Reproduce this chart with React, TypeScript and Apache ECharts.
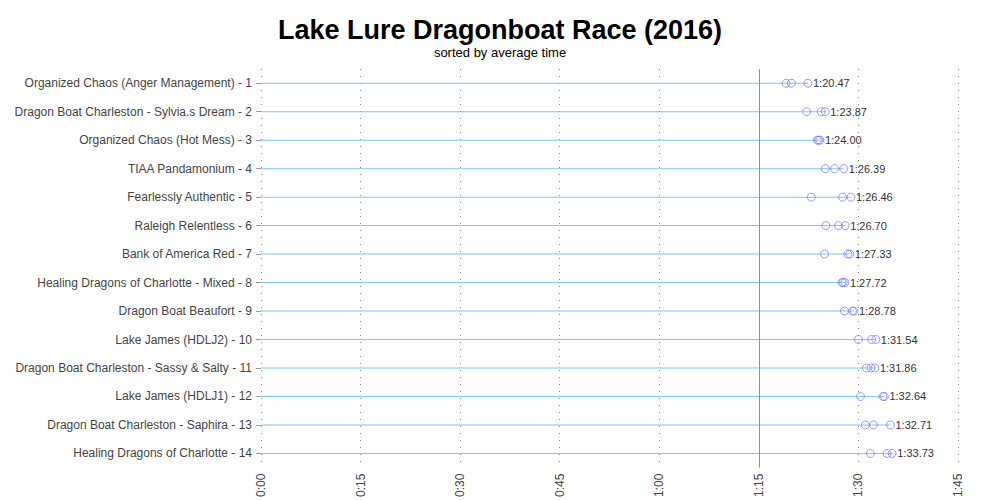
import React, { useEffect, useRef } from "react";
import * as echarts from "echarts";

const teams = [
  "Organized Chaos (Anger Management) - 1",
  "Dragon Boat Charleston - Sylvia.s Dream - 2",
  "Organized Chaos (Hot Mess) - 3",
  "TIAA Pandamonium - 4",
  "Fearlessly Authentic - 5",
  "Raleigh Relentless - 6",
  "Bank of America Red - 7",
  "Healing Dragons of Charlotte - Mixed - 8",
  "Dragon Boat Beaufort - 9",
  "Lake James (HDLJ2) - 10",
  "Dragon Boat Charleston - Sassy & Salty - 11",
  "Lake James (HDLJ1) - 12",
  "Dragon Boat Charleston - Saphira - 13",
  "Healing Dragons of Charlotte - 14",
];

// race times in seconds
const race1 = [79.1, 82.2, 83.8, 85.0, 82.9, 85.1, 84.9, 87.5, 87.9, 90.0, 91.2, 90.3, 91.05, 91.8];
const race2 = [79.9, 84.4, 84.0, 86.4, 87.6, 87.0, 88.4, 87.7, 89.1, 92.0, 91.9, 93.7, 92.25, 94.3];
const race3 = [82.4, 85.0, 84.2, 87.77, 88.88, 88.0, 88.7, 87.96, 89.34, 92.62, 92.48, 93.92, 94.83, 95.09];
const averages = [80.47, 83.87, 84.0, 86.39, 86.46, 86.7, 87.33, 87.72, 88.78, 91.54, 91.86, 92.64, 92.71, 93.73];

const xTicks = [0, 15, 30, 45, 60, 75, 90, 105];
const referenceTime = 75;

const fmtTick = (v: number) => {
  const m = Math.floor(v / 60);
  const s = Math.round(v - m * 60);
  return `${m}:${s < 10 ? "0" : ""}${s}`;
};
const fmtAvg = (v: number) => {
  const m = Math.floor(v / 60);
  const s = v - m * 60;
  const str = s.toFixed(2);
  return `${m}:${s < 10 ? "0" : ""}${str}`;
};

const FONT = "'Liberation Sans', Arial, sans-serif";

export default function App() {
  const ref = useRef<HTMLDivElement>(null);
  useEffect(() => {
    if (!ref.current) return;
    const chart = echarts.init(ref.current, undefined, { renderer: "svg" });
    const maxes = teams.map((_, i) => Math.max(race1[i], race2[i], race3[i]));
    const pts: number[][] = [];
    teams.forEach((_, i) => {
      pts.push([race1[i], i]);
      pts.push([race2[i], i]);
      pts.push([race3[i], i]);
    });
    chart.setOption({
      animation: false,
      textStyle: { fontFamily: FONT },
      title: {
        text: "Lake Lure Dragonboat Race (2016)",
        subtext: "sorted by average time",
        left: "center",
        top: 11,
        itemGap: 3,
        textStyle: { fontFamily: FONT, fontSize: 27, fontWeight: "bold", color: "#000" },
        subtextStyle: { fontFamily: FONT, fontSize: 13, color: "#000" },
      },
      grid: { left: 261, right: 42, top: 69, bottom: 31, containLabel: false },
      xAxis: {
        type: "value",
        min: xTicks[0],
        max: xTicks[xTicks.length - 1],
        interval: 15,
        axisLine: { show: false },
        axisTick: { show: false },
        axisLabel: {
          rotate: 90,
          margin: 6,
          fontSize: 12,
          color: "#444",
          fontFamily: FONT,
          formatter: (v: number) => fmtTick(v),
        },
        splitLine: { show: true, lineStyle: { color: "#888", type: [1, 6], width: 1 } },
      },
      yAxis: {
        type: "category",
        data: teams,
        inverse: true,
        axisLine: { show: false },
        axisTick: { show: true, length: 5, lineStyle: { color: "#999" }, alignWithLabel: true },
        axisLabel: { fontSize: 12, color: "#444", margin: 9, fontFamily: FONT },
        splitLine: { show: false },
      },
      series: [
        {
          type: "bar",
          data: maxes,
          barWidth: 1,
          itemStyle: { color: "#7cc8f0" },
          label: {
            show: true,
            position: "right",
            distance: 5,
            fontSize: 11,
            color: "#333",
            fontFamily: FONT,
            formatter: (p: any) => fmtAvg(averages[p.dataIndex]),
          },
          markLine: {
            silent: true,
            symbol: "none",
            label: { show: false },
            lineStyle: { color: "#22dd22", type: "solid", width: 1 },
            data: [{ xAxis: referenceTime }],
          },
          z: 1,
        },
        {
          type: "scatter",
          data: pts,
          symbol: "circle",
          symbolSize: 8,
          itemStyle: { color: "rgba(255,255,255,0)", borderColor: "#8080ff", borderWidth: 1 },
          z: 3,
        },
      ],
    });
    return () => chart.dispose();
  }, []);
  return <div ref={ref} style={{ width: 1000, height: 500, position: "absolute", left: 0, top: 0 }} />;
}
